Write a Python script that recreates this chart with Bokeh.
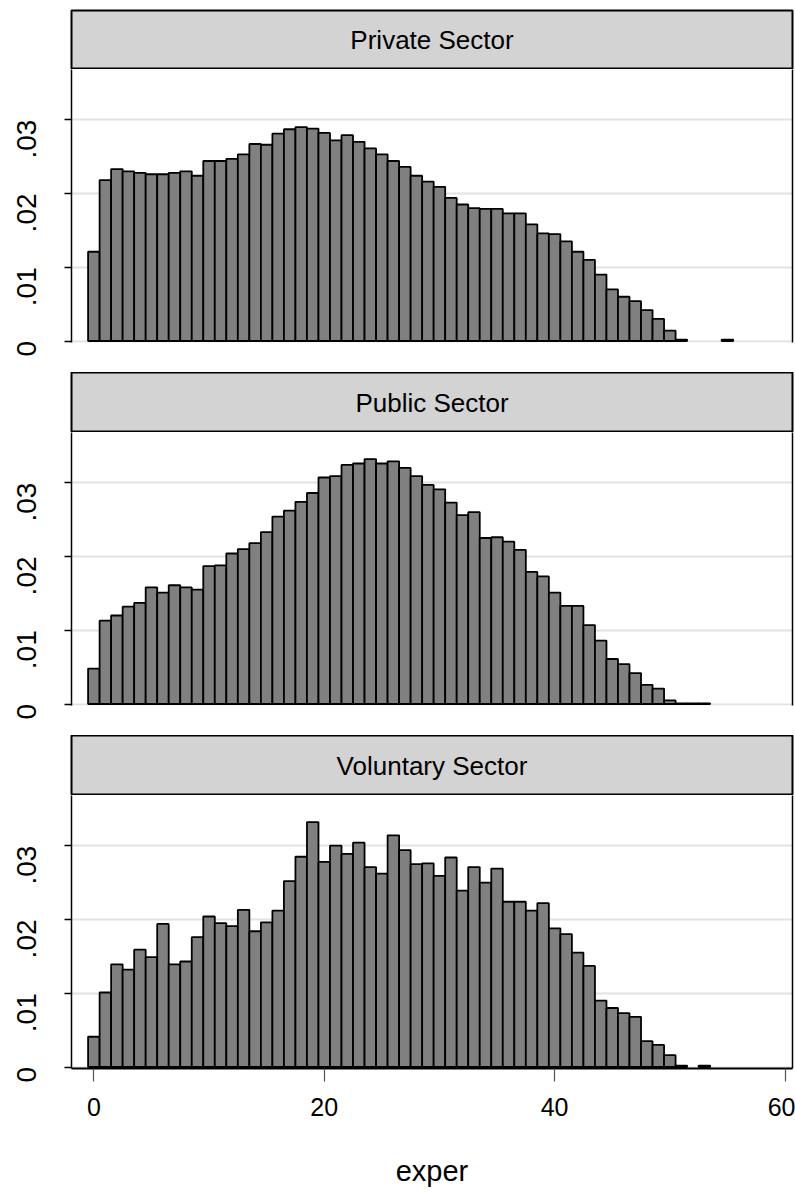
import math
from bokeh.plotting import figure
from bokeh.layouts import column
from bokeh.models import (Range1d, FixedTicker, LinearAxis, Label, CustomJSTickFormatter,
                          ColumnDataSource)
from bokeh.embed import file_html
from bokeh.resources import INLINE

# ---- data (density of experience by sector, bins of width 1 centred on integers) ----
sectors = ["Private Sector", "Public Sector", "Voluntary Sector"]

private_density = [0.0121, 0.0218, 0.0233, 0.0230, 0.0228, 0.0226, 0.0226, 0.0228, 0.0230, 0.0224,
                   0.0244, 0.0244, 0.0247, 0.0253, 0.0267, 0.0266, 0.0281, 0.0287, 0.0290, 0.0288,
                   0.0282, 0.0272, 0.0279, 0.0270, 0.0261, 0.0253, 0.0244, 0.0236, 0.0224, 0.0216,
                   0.0209, 0.0194, 0.0185, 0.0180, 0.0179, 0.0179, 0.0173, 0.0173, 0.0158, 0.0146,
                   0.0145, 0.0135, 0.0121, 0.0110, 0.0090, 0.0070, 0.0060, 0.0054, 0.0042, 0.0030,
                   0.0014, 0.0002, 0.0, 0.0, 0.0, 0.0002]

public_density = [0.0048, 0.0113, 0.0120, 0.0132, 0.0137, 0.0158, 0.0151, 0.0161, 0.0158, 0.0155,
                  0.0187, 0.0188, 0.0204, 0.0210, 0.0218, 0.0233, 0.0254, 0.0262, 0.0274, 0.0286,
                  0.0307, 0.0309, 0.0324, 0.0326, 0.0332, 0.0326, 0.0329, 0.0320, 0.0309, 0.0297,
                  0.0291, 0.0273, 0.0256, 0.0260, 0.0225, 0.0226, 0.0220, 0.0209, 0.0179, 0.0173,
                  0.0151, 0.0133, 0.0133, 0.0107, 0.0086, 0.0061, 0.0054, 0.0042, 0.0026, 0.0021,
                  0.0005, 0.0001, 0.0001, 0.0001]

voluntary_density = [0.0041, 0.0101, 0.0139, 0.0132, 0.0159, 0.0149, 0.0194, 0.0139, 0.0143, 0.0176,
                     0.0204, 0.0195, 0.0191, 0.0213, 0.0184, 0.0196, 0.0212, 0.0252, 0.0285, 0.0332,
                     0.0278, 0.0300, 0.0289, 0.0304, 0.0271, 0.0262, 0.0314, 0.0294, 0.0275, 0.0276,
                     0.0259, 0.0284, 0.0239, 0.0271, 0.0250, 0.0269, 0.0224, 0.0224, 0.0212, 0.0222,
                     0.0188, 0.0180, 0.0155, 0.0137, 0.0090, 0.0080, 0.0073, 0.0068, 0.0035, 0.0030,
                     0.0016, 0.0002, 0.0, 0.0002]

densities = [private_density, public_density, voluntary_density]

y_ticks = [0, 0.01, 0.02, 0.03]
x_ticks = [0, 20, 40, 60]
x_label = "exper"

# ---- styling / layout ----
W = 795
LEFT = 71
FRAME_W = 721
RIGHT = W - LEFT - FRAME_W
NARROW = "Liberation Sans Narrow, Liberation Sans, sans-serif"
REG = "Liberation Sans, Arial, sans-serif"
BAR_FILL = "#808080"
HEADER_FILL = "#d3d3d3"
GRID = "#e2e2e2"

x_range = Range1d(-1.94, 60.65)
y_range = Range1d(-0.0002, 0.0368)

ytick_fmt = CustomJSTickFormatter(code="""
    if (tick == 0) return '0';
    return tick.toFixed(2).replace(/^0/, '');
""")


def header(title, height, top):
    h = figure(width=W, height=height, x_range=(0, 1), y_range=(0, 1),
               output_backend="svg", toolbar_location=None,
               x_axis_location=None, y_axis_location=None,
               min_border_left=LEFT, min_border_right=RIGHT,
               min_border_top=top, min_border_bottom=0)
    h.background_fill_color = HEADER_FILL
    h.border_fill_color = "white"
    h.outline_line_color = "black"
    h.outline_line_width = 2
    h.xgrid.visible = False
    h.ygrid.visible = False
    h.add_layout(Label(x=0.5, y=0.5, text=title, text_align="center",
                       text_baseline="middle", text_font=NARROW,
                       text_font_size="26px", text_color="black"))
    return h


def panel(dens, height, bottom, show_x):
    p = figure(width=W, height=height, x_range=x_range, y_range=y_range,
               output_backend="svg", toolbar_location=None,
               x_axis_location="below" if show_x else None,
               min_border_left=LEFT, min_border_right=RIGHT,
               min_border_top=0, min_border_bottom=bottom)
    p.outline_line_color = None
    p.background_fill_color = "white"
    p.border_fill_color = "white"

    xs = [i for i, d in enumerate(dens) if d > 0]
    ys = [d for d in dens if d > 0]
    src = ColumnDataSource(dict(x=xs, top=ys))
    p.vbar(x="x", top="top", bottom=0, width=1, source=src,
           fill_color=BAR_FILL, line_color="black", line_width=1.8)

    # y axis
    ya = p.yaxis[0]
    ya.ticker = FixedTicker(ticks=y_ticks)
    ya.formatter = ytick_fmt
    ya.major_label_orientation = math.pi / 2
    ya.major_label_text_font = REG
    ya.major_label_text_font_size = "28px"
    ya.major_label_text_color = "black"
    ya.major_label_standoff = 38
    ya.major_tick_out = 7
    ya.major_tick_in = 0
    ya.minor_tick_out = 0
    ya.minor_tick_in = 0
    ya.major_tick_line_color = "black"
    ya.major_tick_line_width = 1.5
    ya.axis_line_color = "black"
    ya.axis_line_width = 1.5

    p.ygrid.ticker = FixedTicker(ticks=y_ticks)
    p.ygrid.grid_line_color = GRID
    p.ygrid.grid_line_width = 2
    p.xgrid.visible = False

    # right border line
    ra = LinearAxis(ticker=FixedTicker(ticks=[]), major_tick_out=0, major_tick_in=0,
                    minor_tick_out=0, minor_tick_in=0, major_label_standoff=0,
                    major_label_text_font_size="0px", axis_line_color="black",
                    axis_line_width=1.5)
    p.add_layout(ra, "right")

    if show_x:
        xa = p.xaxis[0]
        xa.ticker = FixedTicker(ticks=x_ticks)
        xa.major_label_text_font = NARROW
        xa.major_label_text_font_size = "25px"
        xa.major_label_text_color = "black"
        xa.major_label_standoff = 16
        xa.major_tick_out = 13
        xa.major_tick_in = 0
        xa.minor_tick_out = 0
        xa.minor_tick_in = 0
        xa.major_tick_line_color = "#555555"
        xa.major_tick_line_width = 1.2
        xa.axis_line_color = "black"
        xa.axis_line_width = 2
        xa.axis_label = x_label
        xa.axis_label_text_font = NARROW
        xa.axis_label_text_font_size = "29px"
        xa.axis_label_text_font_style = "normal"
        xa.axis_label_text_color = "black"
        xa.axis_label_standoff = 36
    return p


h1 = header(sectors[0], 69, 10)
p1 = panel(densities[0], 303, 30, False)
h2 = header(sectors[1], 60, 0)
p2 = panel(densities[1], 303, 30, False)
h3 = header(sectors[2], 60, 0)
p3 = panel(densities[2], 408, 135, True)

layout = column(h1, p1, h2, p2, h3, p3, spacing=0)

open("out.html", "w").write(file_html(layout, INLINE))
